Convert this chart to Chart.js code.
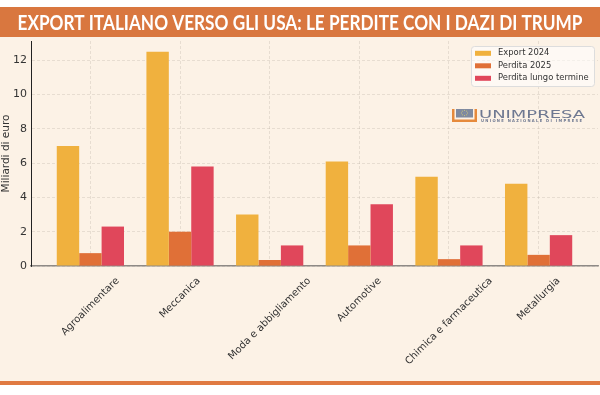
<!DOCTYPE html>
<html>
<head>
<meta charset="utf-8">
<script src="https://cdn.jsdelivr.net/npm/chart.js@4"></script>
<style>
  html, body { margin: 0; padding: 0; background: #fff; }
  #wrap { width: 600px; height: 395px; }
</style>
</head>
<body>
<div id="wrap"><canvas id="chart" width="600" height="395"></canvas></div>
<script>
// data
const categories = ["Agroalimentare", "Meccanica", "Moda e abbigliamento", "Automotive", "Chimica e farmaceutica", "Metallurgia"];
const export2024 = [7.0, 12.5, 3.0, 6.1, 5.2, 4.8];
const perdita2025 = [0.75, 2.0, 0.35, 1.2, 0.4, 0.65];
const perditaLungo = [2.3, 5.8, 1.2, 3.6, 1.2, 1.8];
const seriesNames = ["Export 2024", "Perdita 2025", "Perdita lungo termine"];
const yTicks = [0, 2, 4, 6, 8, 10, 12];
const titleText = "EXPORT ITALIANO VERSO GLI USA: LE PERDITE CON I DAZI DI TRUMP";

const colors = ["#F0B13E", "#E07037", "#E0475B"];
const cream = "#FCF2E6";
const textCol = "#333333";

const toPoints = arr => arr.map((v, i) => ({ x: i, y: v }));

// background, header band and bottom rule
const frame = {
    id: "frame",
    beforeDraw(chart) {
        const ctx = chart.ctx;
        ctx.save();
        ctx.fillStyle = "#ffffff";
        ctx.fillRect(0, 0, 600, 395);
        ctx.fillStyle = cream;
        ctx.fillRect(0, 37, 600, 345);
        ctx.fillStyle = "#D9773F";
        ctx.fillRect(0, 7, 600, 30);
        ctx.fillStyle = "#E07A42";
        ctx.fillRect(0, 381, 600, 4);

        // title, squeezed to the width of the band
        ctx.font = "bold 21px Lato";
        ctx.fillStyle = "#ffffff";
        ctx.textAlign = "center";
        ctx.textBaseline = "alphabetic";
        const w = ctx.measureText(titleText).width;
        ctx.translate(300, 30);
        ctx.scale(565 / w, 1);
        ctx.fillText(titleText, 0, 0);
        ctx.restore();
    }
};

// rotated category labels, centred under each group like the original
const xLabels = {
    id: "xLabels",
    afterDraw(chart) {
        const ctx = chart.ctx;
        const xs = chart.scales.x;
        ctx.save();
        ctx.font = "10px 'DejaVu Sans'";
        ctx.fillStyle = textCol;
        ctx.textAlign = "center";
        ctx.textBaseline = "middle";
        const h = 12;
        categories.forEach((c, i) => {
            const w = ctx.measureText(c).width;
            const box = (w + h) * Math.SQRT1_2;
            const cx = xs.getPixelForValue(i);
            const cy = chart.chartArea.bottom + 9 + box / 2;
            ctx.save();
            ctx.translate(cx, cy);
            ctx.rotate(-Math.PI / 4);
            ctx.fillText(c, 0, 0);
            ctx.restore();
        });
        ctx.restore();
    }
};

// legend box in the upper right corner plus the logo
const inLegend = {
    id: "inLegend",
    afterDraw(chart) {
        const ctx = chart.ctx;
        ctx.save();
        ctx.fillStyle = "rgba(255,255,255,0.55)";
        ctx.strokeStyle = "#dddddd";
        ctx.lineWidth = 1;
        ctx.beginPath();
        ctx.roundRect(471.5, 46.5, 123, 40, 3);
        ctx.fill();
        ctx.stroke();
        ctx.font = "8.4px 'DejaVu Sans'";
        ctx.textBaseline = "middle";
        ctx.textAlign = "left";
        chart.data.datasets.forEach((ds, i) => {
            const y = 53.3 + i * 12.5;
            ctx.fillStyle = ds.backgroundColor;
            ctx.fillRect(475, y - 2.5, 16, 5);
            ctx.fillStyle = textCol;
            ctx.fillText(ds.label, 498, y);
        });

        // UNIMPRESA mark
        ctx.fillStyle = "#E68A3C";
        ctx.fillRect(452, 109, 25, 13);
        ctx.fillStyle = cream;
        ctx.fillRect(454.5, 109, 20, 10.5);
        ctx.fillStyle = "#7F8AA0";
        ctx.fillRect(456, 109, 17, 8.5);
        ctx.fillStyle = "#c9c27a";
        for (let k = 0; k < 8; k++) {
            const a = k / 8 * Math.PI * 2;
            ctx.fillRect(464.5 + Math.cos(a) * 3 - 0.5, 113 + Math.sin(a) * 2.6 - 0.5, 1, 1);
        }
        ctx.fillStyle = "#6E7891";
        ctx.font = "11px 'DejaVu Sans'";
        ctx.textBaseline = "alphabetic";
        let t = "UNIMPRESA";
        let w = ctx.measureText(t).width;
        ctx.save();
        ctx.translate(479, 117.5);
        ctx.scale(106 / w, 1);
        ctx.fillText(t, 0, 0);
        ctx.restore();
        ctx.font = "bold 4px 'DejaVu Sans'";
        t = "U N I O N E   N A Z I O N A L E   D I   I M P R E S E";
        w = ctx.measureText(t).width;
        ctx.save();
        ctx.translate(481, 122);
        ctx.scale(101 / w, 1);
        ctx.fillText(t, 0, 0);
        ctx.restore();
        ctx.restore();
    }
};

const gridStyle = {
    color: "rgba(170,160,150,0.32)",
    lineWidth: 0.8,
    drawTicks: false
};

new Chart(document.getElementById("chart"), {
    type: "bar",
    data: {
        datasets: [
            { label: seriesNames[0], data: toPoints(export2024), backgroundColor: colors[0] },
            { label: seriesNames[1], data: toPoints(perdita2025), backgroundColor: colors[1] },
            { label: seriesNames[2], data: toPoints(perditaLungo), backgroundColor: colors[2] }
        ]
    },
    options: {
        responsive: false,
        animation: false,
        layout: { padding: { top: 41, right: 2, left: 0, bottom: 0 } },
        datasets: {
            bar: {
                categoryPercentage: 0.75,
                barPercentage: 1,
                borderWidth: 0
            }
        },
        plugins: {
            legend: { display: false },
            tooltip: { enabled: false }
        },
        scales: {
            x: {
                type: "linear",
                offset: false,
                min: -0.6625,
                max: 5.6625,
                afterBuildTicks: axis => { axis.ticks = categories.map((c, i) => ({ value: i })); },
                afterFit: scale => { scale.height = 129; },
                ticks: { display: false },
                grid: Object.assign({}, gridStyle, { offset: false }),
                border: { color: "#8E8A86", width: 1.5, dash: [3, 2] }
            },
            y: {
                min: 0,
                max: 13.125,
                afterBuildTicks: axis => { axis.ticks = yTicks.map(v => ({ value: v })); },
                afterFit: scale => { scale.width = 31; },
                ticks: {
                    color: textCol,
                    font: { family: "DejaVu Sans", size: 11 },
                    padding: 4
                },
                grid: gridStyle,
                border: { color: "#222222", width: 1, dash: [3, 2] },
                title: {
                    display: true,
                    text: "Miliardi di euro",
                    color: textCol,
                    font: { family: "DejaVu Sans", size: 10.5 },
                    padding: { top: 0, bottom: 0 }
                }
            }
        }
    },
    plugins: [frame, xLabels, inLegend]
});
</script>
</body>
</html>
